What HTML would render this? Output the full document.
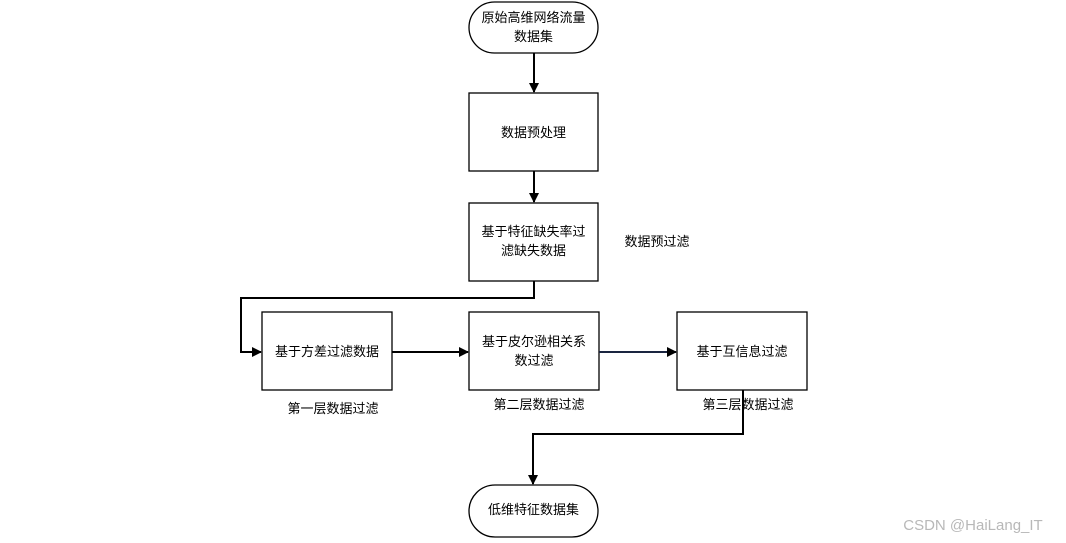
<!DOCTYPE html>
<html><head><meta charset="utf-8"><style>
body{margin:0;background:#fff;width:1066px;height:543px;overflow:hidden;position:relative;font-family:"Liberation Sans","Noto Sans CJK SC",sans-serif;}
.t{position:absolute;font-size:13px;color:#000;text-align:center;line-height:19px;}
</style></head><body>
<svg width="1066" height="543" style="position:absolute;left:0;top:0">
<defs><marker id="a" markerWidth="10" markerHeight="10" refX="9" refY="5" orient="auto" markerUnits="userSpaceOnUse"><path d="M0,0 L10,5 L0,10 z" fill="#000"/></marker></defs>
<g fill="#fff" stroke="#000" stroke-width="1.3">
<rect x="469" y="2" width="129" height="51" rx="25.5"/>
<rect x="469" y="93" width="129" height="78"/>
<rect x="469" y="203" width="129" height="78"/>
<rect x="262" y="312" width="130" height="78"/>
<rect x="469" y="312" width="130" height="78"/>
<rect x="677" y="312" width="130" height="78"/>
<rect x="469" y="485" width="129" height="52" rx="26"/>
</g>
<g fill="none" stroke="#000" stroke-width="2">
<line x1="534" y1="53" x2="534" y2="92" marker-end="url(#a)"/>
<line x1="534" y1="171" x2="534" y2="202" marker-end="url(#a)"/>
<polyline points="534,281 534,298 241,298 241,352 261,352" marker-end="url(#a)"/>
<line x1="392" y1="352" x2="468" y2="352" marker-end="url(#a)"/>
<line x1="599" y1="352" x2="676" y2="352" stroke="#1a2540" marker-end="url(#a)"/>
<polyline points="743,390 743,434 533,434 533,484" marker-end="url(#a)"/>
</g>
</svg>
<div class="t" style="left:469px;top:8px;width:129px">原始高维网络流量<br>数据集</div>
<div class="t" style="left:469px;top:123px;width:129px">数据预处理</div>
<div class="t" style="left:469px;top:222px;width:129px">基于特征缺失率过<br>滤缺失数据</div>
<div class="t" style="left:612px;top:232px;width:90px">数据预过滤</div>
<div class="t" style="left:262px;top:342px;width:130px">基于方差过滤数据</div>
<div class="t" style="left:469px;top:332px;width:130px">基于皮尔逊相关系<br>数过滤</div>
<div class="t" style="left:677px;top:342px;width:130px">基于互信息过滤</div>
<div class="t" style="left:268px;top:399px;width:130px">第一层数据过滤</div>
<div class="t" style="left:474px;top:395px;width:130px">第二层数据过滤</div>
<div class="t" style="left:683px;top:395px;width:130px">第三层数据过滤</div>
<div class="t" style="left:469px;top:500px;width:129px">低维特征数据集</div>
<div class="t" style="left:880px;top:516px;width:186px;font-size:15px;color:#b8b8b8">CSDN @HaiLang_IT</div>
</body></html>
